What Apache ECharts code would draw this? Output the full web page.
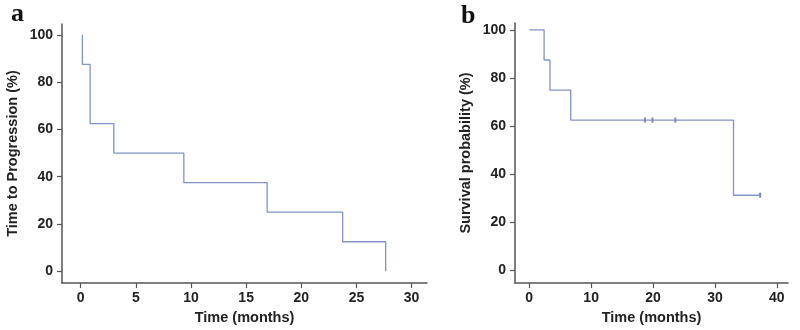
<!DOCTYPE html>
<html><head><meta charset="utf-8">
<script src="https://cdn.jsdelivr.net/npm/echarts@6/dist/echarts.min.js"></script>
<style>html,body{margin:0;padding:0;background:#fff}#c{width:800px;height:330px}</style>
</head><body><div id="c"></div>
<script>
// Panel a: time to progression (Kaplan-Meier step curve)
const ttpTimes  = [0.15, 0.15, 0.85, 0.85, 3.0, 3.0, 9.35, 9.35, 16.9, 16.9, 23.75, 23.75, 27.65, 27.65];
const ttpValues = [100, 87.5, 87.5, 62.5, 62.5, 50, 50, 37.5, 37.5, 25, 25, 12.5, 12.5, 0];
// Panel b: survival probability
const osTimes  = [0, 2.4, 2.4, 3.35, 3.35, 6.7, 6.7, 33.0, 33.0, 37.3];
const osValues = [100, 100, 87.5, 87.5, 75, 75, 62.5, 62.5, 31.25, 31.25];
const osCensorTimes  = [18.7, 19.9, 23.6, 37.3];
const osCensorValues = [62.5, 62.5, 62.5, 31.25];
// Tick labels
const xTicksA = [0, 5, 10, 15, 20, 25, 30];
const xTicksB = [0, 10, 20, 30, 40];
const yTicks  = [0, 20, 40, 60, 80, 100];
const panelLabels = ['a', 'b'];
const yTitles = ['Time to Progression (%)', 'Survival probability (%)'];
const xTitle = 'Time (months)';

const lineColor = '#8291c6';
const axisColor = '#555';
const font = 'Liberation Sans, Arial, sans-serif';

function xAxis(gi, min, max, ticks, gap) {
  return {
    type: 'value', gridIndex: gi, min: min, max: max,
    name: xTitle, nameLocation: 'middle', nameGap: gap,
    nameTextStyle: {fontFamily: font, fontWeight: 'bold', fontSize: 14.5, color: '#222'},
    axisLine: {show: true, onZero: false, lineStyle: {color: axisColor, width: 1.5}},
    axisTick: {show: true, length: 5, lineStyle: {color: axisColor, width: 1.2}, customValues: ticks},
    axisLabel: {customValues: ticks, margin: 8, fontFamily: font, fontWeight: 'bold', fontSize: 14, color: '#222'},
    splitLine: {show: false}
  };
}
function yAxis(gi, min, max, title, gap) {
  return {
    type: 'value', gridIndex: gi, min: min, max: max,
    name: title, nameLocation: 'middle', nameGap: gap, nameRotate: 90,
    nameTextStyle: {fontFamily: font, fontWeight: 'bold', fontSize: 14.5, color: '#222'},
    axisLine: {show: true, onZero: false, lineStyle: {color: axisColor, width: 1.5}},
    axisTick: {show: true, length: 5, lineStyle: {color: axisColor, width: 1.2}, customValues: yTicks},
    axisLabel: {customValues: yTicks, margin: 9, fontFamily: font, fontWeight: 'bold', fontSize: 14, color: '#222'},
    splitLine: {show: false}
  };
}
function zip(a, b) { return a.map((v, i) => [v, b[i]]); }

const chart = echarts.init(document.getElementById('c'), null, {renderer: 'canvas'});
chart.setOption({
  animation: false,
  backgroundColor: '#fff',
  title: [
    {text: panelLabels[0], left: 6, top: -4, textStyle: {fontFamily: 'Liberation Serif, serif', fontWeight: 'bold', fontSize: 26, color: '#111'}},
    {text: panelLabels[1], left: 456, top: -2, textStyle: {fontFamily: 'Liberation Serif, serif', fontWeight: 'bold', fontSize: 26, color: '#111'}}
  ],
  grid: [
    {left: 62, right: 373, top: 24, bottom: 44},
    {left: 515, right: 12, top: 23, bottom: 42}
  ],
  xAxis: [xAxis(0, -1.7, 31.4, xTicksA, 25), xAxis(1, -2.3, 41.8, xTicksB, 21)],
  yAxis: [yAxis(0, -5, 104.6, yTitles[0], 42), yAxis(1, -5.3, 102.9, yTitles[1], 42)],
  series: [
    {type: 'line', xAxisIndex: 0, yAxisIndex: 0, data: zip(ttpTimes, ttpValues), symbol: 'none',
     lineStyle: {color: lineColor, width: 1.3}},
    {type: 'line', xAxisIndex: 1, yAxisIndex: 1, data: zip(osTimes, osValues), symbol: 'none',
     lineStyle: {color: lineColor, width: 1.3}},
    {type: 'scatter', xAxisIndex: 1, yAxisIndex: 1, data: zip(osCensorTimes, osCensorValues),
     symbol: 'rect', symbolSize: [2, 5], itemStyle: {color: '#5a67a8'}}
  ]
});
</script></body></html>
